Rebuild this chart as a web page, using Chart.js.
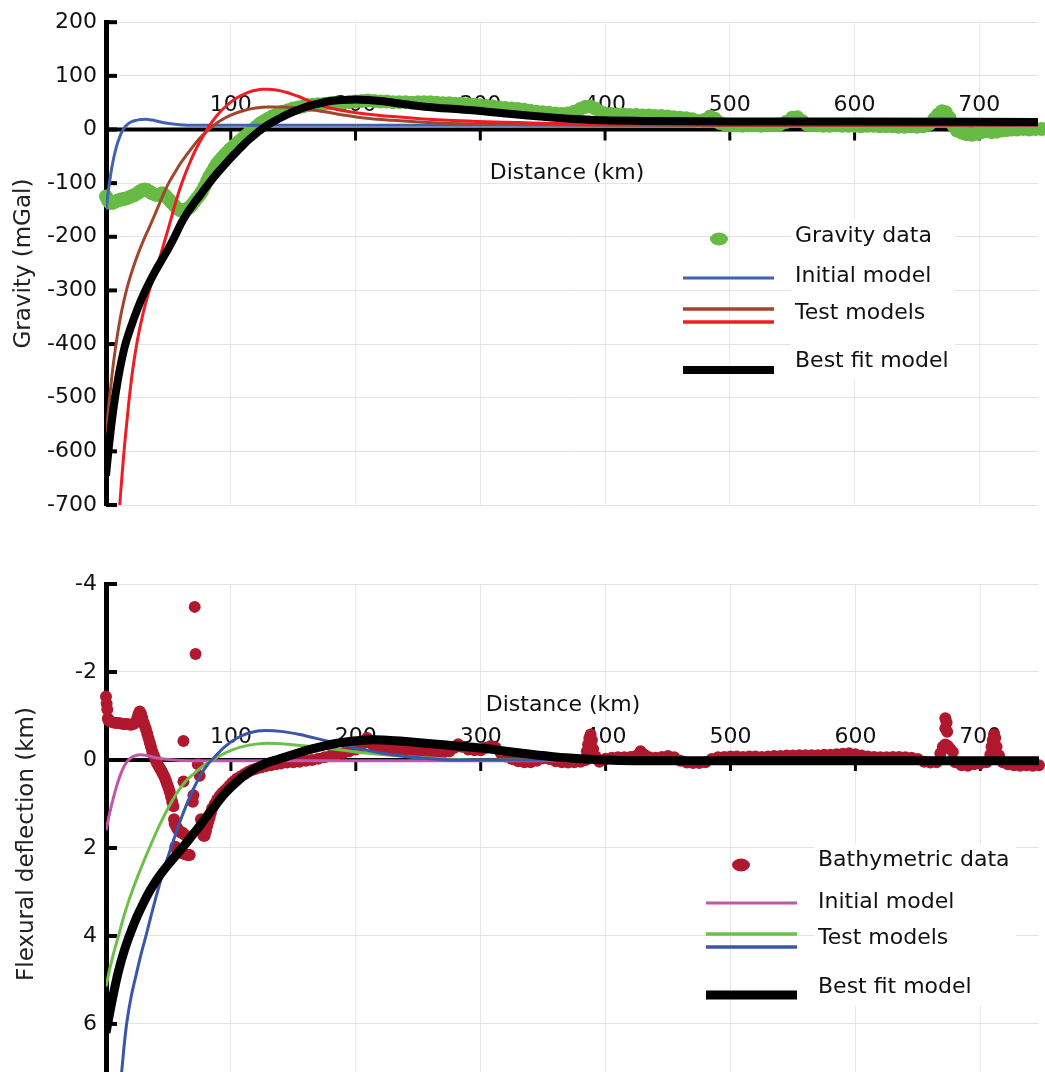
<!DOCTYPE html>
<html>
<head>
<meta charset="utf-8">
<title>Gravity and flexural deflection</title>
<script src="https://cdn.jsdelivr.net/npm/chart.js@4.4.1/dist/chart.umd.min.js"></script>
<style>
  html, body { margin: 0; padding: 0; background: #fff; overflow: hidden; }
  #contenedor { position: relative; width: 1045px; height: 1072px; overflow: hidden; }
  canvas { position: absolute; left: 0; }
  #grafico-gravedad { top: 0; }
  #grafico-flexion { top: 540px; }
</style>
</head>
<body>
<div id="contenedor">
  <canvas id="grafico-gravedad" width="1045" height="540"></canvas>
  <canvas id="grafico-flexion" width="1045" height="590"></canvas>
</div>
<script>
// ticks
const distanceTicks = [100, 200, 300, 400, 500, 600, 700];
const gravityTicks = [200, 100, 0, -100, -200, -300, -400, -500, -600, -700];
const deflectionTicks = [-4, -2, 0, 2, 4, 6];

// gravity profile (km, mGal)
const gravityData = [
  [0,-125],[1.5,-132],[3,-136],[5,-137],[7,-135],[9,-133],[11,-131],[13,-130],[15,-129],[17,-128],
  [19,-126],[21,-124],[23,-122],[25,-119],[27,-116],[29,-113],[31,-112],[33,-113],[35,-116],[37,-119],
  [39,-121],[41,-122],[43,-121],[45,-119],[47,-122],[49,-127],[51,-132],[53,-137],[55,-142],[57,-147],
  [59,-150],[61,-151],[63,-150],[65,-148],[67,-145],[69,-140],[71,-134],[73,-128],[75,-122],[77,-115],
  [79,-106],[81,-96],[83,-87],[85,-79],[87,-71],[89,-64],[91,-58],[93,-53],[95,-48],[97,-43],
  [99,-38],[101,-34],[103,-30],[105,-26],[107,-22],[109,-18],[111,-14],[113,-10],[115,-6],[117,-2],
  [119,2],[121,6],[123,10],[125,13],[127,16],[130,20],[133,24],[136,27],[139,30],[142,33],
  [146,36],[150,39],[154,41],[158,43],[162,45],[166,46],[170,47],[175,48],[180,49],[185,50],
  [190,50],[195,51],[200,52],[205,53],[210,54],[215,53],[220,52],[225,52],[230,51],[235,51],
  [240,51],[245,50],[250,51],[255,51],[260,51],[265,50],[270,49],[275,49],[280,48],[285,48],
  [290,47],[295,46],[300,45],[305,44],[310,43],[315,41],[320,40],[325,39],[330,38],[335,37],
  [340,35],[345,33],[350,32],[355,31],[360,30],[365,29],[370,30],[375,33],[380,38],[384,42],
  [388,43],[392,39],[396,33],[400,30],[405,29],[410,28],[415,28],[420,27],[425,27],[430,26],
  [435,26],[440,25],[445,25],[450,24],[455,23],[460,22],[465,21],[470,19],[475,16],[480,18],
  [484,24],[488,20],[492,12],[496,9],[500,8],[505,8],[510,7],[515,8],[520,8],[525,7],
  [530,8],[535,8],[540,9],[545,14],[550,22],[554,23],[558,16],[562,9],[566,8],[570,8],
  [575,7],[580,7],[585,8],[590,7],[595,7],[600,7],[605,6],[610,7],[615,7],[620,6],
  [625,6],[630,6],[635,5],[640,5],[645,6],[650,5],[655,6],[660,10],[664,20],[667,28],
  [670,34],[673,32],[676,22],[679,8],[682,-2],[686,-6],[690,-9],[694,-10],[698,-8],[702,-5],
  [706,-3],[710,-5],[714,-4],[718,-2],[722,-1],[726,0],[730,0],[735,1],[740,0],[745,1],[750,1]
];
const gravityInitial = [
  [0,-150],[2,-112],[4,-80],[6,-55],[8,-35],[10,-20],[12,-8],[14,1],[17,9],[20,14],
  [24,17],[28,18.5],[32,19],[37,17.5],[42,15],[48,12],[55,10],[62,8.5],[70,8],[100,8],[300,8],[750,8]
];
const gravityTestBrown = [
  [0,-570],[2,-520],[4,-475],[6,-435],[9,-385],[12,-345],[15,-313],[18,-286],[22,-256],[26,-230],
  [30,-207],[34,-186],[38,-165],[42,-143],[46,-121],[50,-101],[55,-81],[60,-62],[65,-46],[70,-31],
  [75,-17],[80,-5],[85,5],[90,14],[95,21],[100,27],[110,35],[120,40],[130,42],[140,42],
  [150,41],[165,37],[178,32],[190,27],[205,22],[230,17],[258,13],[298,10],[340,9],[400,8],[750,8]
];
const gravityTestRed = [
  [9,-760],[11,-700],[13,-640],[15,-585],[18,-515],[21,-455],[25,-395],[30,-340],[35,-298],[40,-262],
  [44,-232],[48,-200],[51,-176],[55,-143],[59,-112],[63,-86],[67,-63],[71,-42],[75,-24],[80,-4],
  [85,14],[90,29],[95,41],[100,51],[105,59],[110,65],[115,70],[120,73],[125,75],[130,75],
  [135,74],[140,72],[145,69],[150,65],[155,61],[160,56],[165,51],[170,47],[178,41],[190,35],
  [205,30],[230,24],[258,19],[298,15],[330,13],[360,11],[400,10],[500,9],[750,9]
];
const gravityBestFit = [
  [0,-645],[2,-598],[4,-556],[6,-520],[8,-488],[11,-448],[15,-405],[20,-368],[25,-336],[30,-308],
  [35,-284],[40,-262],[45,-242],[50,-222],[55,-200],[60,-176],[65,-156],[70,-139],[75,-124],[80,-108],
  [85,-93],[90,-79],[95,-66],[100,-53],[105,-41],[110,-29],[115,-18],[120,-8],[125,1],[130,9],
  [140,22],[150,33],[160,42],[170,48],[180,53],[190,55],[200,56],[210,55],[220,53],[240,47],
  [258,42],[280,38],[298,35],[320,30],[338,26],[360,22],[380,19],[400,17],[430,16],[500,15],
  [600,15],[750,14]
];

// flexure profile (km, km)
const bathyData = [
  [0,-1.44],[0.5,-1.28],[1,-1.15],[1.5,-0.95],[2,-0.9],[4,-0.87],[6,-0.85],[8,-0.84],[10,-0.84],[12,-0.83],
  [14,-0.82],[16,-0.82],[18,-0.81],[20,-0.8],[22,-0.82],[24,-0.86],[25,-0.95],[26,-1.04],[27,-1.1],[28,-1.05],
  [29,-0.96],[30,-0.86],[31,-0.78],[32,-0.7],[33,-0.6],[34,-0.5],[35,-0.4],[36,-0.3],[37,-0.2],[38,-0.12],
  [39,-0.05],[40,0.02],[41,0.08],[42,0.13],[43,0.18],[44,0.23],[45,0.28],[46,0.34],[47,0.4],[48,0.47],
  [49,0.55],[50,0.63],[51,0.72],[52,0.83],[53,0.95],[54,1.05],[54.5,1.35],[55,1.45],[56,1.5],[57,1.55],
  [58,1.6],[59,1.62],[60,1.65],[61,1.65],[62,1.68],[63,1.7],[55.5,1.97],[57,2.05],[59,2.1],[61,2.12],
  [63,2.14],[65,2.16],[67,2.16],[62,-0.43],[62,0.49],[71,-3.48],[71.7,-2.41],[73.5,0.1],[75,0.36],[70,0.8],
  [69.5,0.95],[76,1.35],[77,1.55],[78,1.72],[79,1.72],[80,1.62],[81,1.5],[82,1.4],[83,1.3],[84,1.2],
  [85,1.1],[87,1.0],[89,0.9],[91,0.82],[93,0.75],[95,0.7],[97,0.64],[99,0.58],[101,0.52],[103,0.47],
  [105,0.42],[108,0.37],[111,0.32],[114,0.27],[117,0.23],[120,0.2],[124,0.17],[128,0.14],[132,0.12],[136,0.1],
  [140,0.08],[145,0.06],[150,0.05],[155,0.04],[160,0.02],[165,0],[170,-0.03],[175,-0.06],[180,-0.1],[185,-0.13],
  [190,-0.16],[195,-0.2],[200,-0.24],[204,-0.3],[207,-0.4],[209,-0.5],[211,-0.45],[213,-0.35],[216,-0.28],[220,-0.27],
  [225,-0.26],[230,-0.25],[235,-0.24],[240,-0.22],[245,-0.21],[250,-0.2],[255,-0.18],[260,-0.17],[265,-0.16],[270,-0.17],
  [275,-0.2],[279,-0.28],[282,-0.36],[285,-0.3],[290,-0.24],[295,-0.22],[300,-0.22],[304,-0.28],[308,-0.32],[312,-0.28],
  [316,-0.16],[320,-0.08],[325,-0.02],[330,0.03],[335,0.05],[340,0.05],[345,0.02],[350,-0.04],[355,-0.02],[360,0.03],
  [365,0.05],[370,0.06],[375,0.05],[380,0.04],[384,0.0],[385,-0.2],[386,-0.35],[387,-0.5],[388,-0.58],[389,-0.45],
  [390,-0.25],[392,-0.08],[395,0.04],[400,-0.03],[405,-0.05],[410,-0.06],[415,-0.06],[420,-0.07],[425,-0.1],[428,-0.2],
  [431,-0.12],[435,-0.06],[440,-0.05],[445,-0.07],[450,-0.09],[455,-0.06],[460,0.02],[465,0.06],[470,0.07],[475,0.07],
  [480,0.05],[485,-0.02],[490,-0.06],[495,-0.07],[500,-0.08],[505,-0.08],[510,-0.07],[515,-0.08],[520,-0.08],[525,-0.07],
  [530,-0.08],[535,-0.09],[540,-0.09],[545,-0.1],[550,-0.1],[555,-0.11],[560,-0.11],[565,-0.11],[570,-0.11],[575,-0.12],
  [580,-0.12],[585,-0.13],[590,-0.14],[595,-0.15],[600,-0.13],[605,-0.1],[610,-0.08],[615,-0.07],[620,-0.06],[625,-0.06],
  [630,-0.07],[635,-0.07],[640,-0.06],[645,-0.05],[650,-0.02],[655,0.04],[660,0.06],[665,0.05],[668,-0.15],[670,-0.3],
  [672,-0.35],[674,-0.32],[676,-0.25],[678,-0.18],[672,-0.95],[673,-0.85],[672,-0.72],[673.5,-0.64],[680,0.05],[685,0.12],
  [690,0.13],[695,0.1],[700,0.08],[705,0.05],[708,-0.12],[709,-0.3],[710,-0.45],[711,-0.58],[712,-0.5],[713,-0.3],
  [715,-0.1],[718,0.05],[722,0.1],[727,0.12],[732,0.13],[737,0.12],[742,0.13],[747,0.12],[752,0.12]
];
const flexInitial = [
  [0,1.6],[3,1.2],[6,0.85],[9,0.55],[12,0.3],[15,0.12],[18,0.0],[22,-0.08],[27,-0.12],[33,-0.1],
  [40,-0.05],[50,-0.01],[60,0.01],[100,0.02],[750,0.02]
];
const flexTestGreen = [
  [0,5.15],[3,4.75],[6,4.4],[10,4.0],[14,3.58],[18,3.22],[22,2.9],[26,2.6],[30,2.32],[34,2.05],
  [40,1.66],[46,1.3],[52,0.98],[58,0.7],[64,0.48],[70,0.32],[75,0.2],[80,0.09],[85,0.01],[90,-0.08],
  [100,-0.22],[110,-0.31],[120,-0.36],[130,-0.38],[145,-0.36],[160,-0.32],[175,-0.27],[190,-0.22],[210,-0.15],[240,-0.08],
  [270,-0.03],[300,0.0],[750,0.02]
];
const flexTestBlue = [
  [10,8.0],[12.5,7.1],[14.5,6.5],[16.5,6.0],[20,5.4],[24,4.9],[28,4.42],[32,4.0],[36,3.55],[40,3.12],
  [45,2.62],[52,2.0],[58,1.5],[64,1.05],[70,0.66],[76,0.33],[82,0.08],[86,-0.04],[95,-0.3],[105,-0.5],
  [115,-0.62],[128,-0.67],[140,-0.65],[155,-0.58],[170,-0.48],[185,-0.37],[200,-0.27],[220,-0.16],[240,-0.08],[260,-0.03],
  [280,0],[750,0.02]
];
const flexBestFit = [
  [0,6.2],[5,5.45],[10,4.8],[15,4.3],[20,3.9],[25,3.55],[30,3.25],[35,2.98],[40,2.75],[45,2.55],
  [50,2.37],[55,2.2],[60,2.03],[65,1.86],[70,1.68],[75,1.5],[80,1.31],[85,1.12],[90,0.94],[95,0.77],
  [100,0.62],[105,0.49],[110,0.37],[115,0.27],[120,0.18],[125,0.11],[130,0.05],[136,0],[145,-0.08],[155,-0.17],
  [165,-0.25],[175,-0.32],[185,-0.38],[195,-0.42],[205,-0.45],[215,-0.46],[225,-0.45],[240,-0.42],[260,-0.37],[280,-0.32],
  [300,-0.27],[320,-0.2],[340,-0.13],[360,-0.07],[380,-0.03],[400,0],[450,0.02],[750,0.02]
];

const FUENTE = '"DejaVu Sans", "Open Sans", sans-serif';
const aPuntos = lista => lista.map(([x, y]) => ({ x, y }));


// axis line at y = 0, inward ticks, distance labels drawn above the axis
function crearEjes(cfg) {
  return {
    id: 'ejes',
    beforeDatasetsDraw(chart) {
      const { ctx, chartArea, scales: { x, y } } = chart;
      const y0 = y.getPixelForValue(0);
      ctx.save();
      ctx.strokeStyle = '#000';
      ctx.lineWidth = 4;
      y.ticks.forEach(t => {
        const py = y.getPixelForValue(t.value);
        ctx.beginPath();
        ctx.moveTo(chartArea.left, py);
        ctx.lineTo(chartArea.left + 11, py);
        ctx.stroke();
      });
      ctx.beginPath();
      ctx.moveTo(chartArea.left, y0);
      ctx.lineTo(chartArea.right, y0);
      ctx.stroke();
      ctx.lineWidth = 3;
      distanceTicks.forEach(v => {
        const px = x.getPixelForValue(v);
        ctx.beginPath();
        ctx.moveTo(px, y0);
        ctx.lineTo(px, y0 + 11);
        ctx.stroke();
      });
      ctx.fillStyle = '#111';
      ctx.font = '22px ' + FUENTE;
      ctx.textAlign = 'center';
      ctx.textBaseline = 'middle';
      distanceTicks.forEach(v => ctx.fillText(String(v), x.getPixelForValue(v), y0 - cfg.labelGap));
      ctx.fillText('Distance (km)', cfg.titleX, y0 + cfg.titleGap);
      ctx.restore();
    }
  };
}


function crearLeyenda(cfg) {
  return {
    id: 'leyenda',
    afterDraw(chart) {
      const ctx = chart.ctx;
      ctx.save();
      ctx.font = '22px ' + FUENTE;
      const anchoMax = Math.max(...cfg.items.map(it => ctx.measureText(it.text).width));
      const primero = cfg.items[0].textY;
      const ultimo = cfg.items[cfg.items.length - 1].textY;
      ctx.fillStyle = '#fff';
      ctx.fillRect(cfg.textX - 4, primero - 16, anchoMax + 10, ultimo - primero + 34);

      cfg.items.forEach(it => {
        if (it.dot) {
          ctx.fillStyle = it.dot.color;
          ctx.beginPath();
          ctx.ellipse(it.dot.x, it.dot.y, 9, 6.5, 0, 0, Math.PI * 2);
          ctx.fill();
        }
        (it.lines || []).forEach(l => {
          ctx.strokeStyle = l.color;
          ctx.lineWidth = l.width;
          ctx.beginPath();
          ctx.moveTo(cfg.lineX1, l.y);
          ctx.lineTo(cfg.lineX2, l.y);
          ctx.stroke();
        });
        ctx.fillStyle = '#111';
        ctx.textAlign = 'left';
        ctx.textBaseline = 'middle';
        ctx.fillText(it.text, cfg.textX, it.textY);
      });
      ctx.restore();
    }
  };
}


function serieLinea(datos, color, ancho, orden) {
  return {
    data: aPuntos(datos),
    showLine: true,
    borderColor: color,
    borderWidth: ancho,
    pointRadius: 0,
    cubicInterpolationMode: 'monotone',
    fill: false,
    order: orden
  };
}

function serieDatos(datos, color, radio) {
  return {
    data: aPuntos(datos),
    showLine: false,
    pointRadius: radio,
    pointBackgroundColor: color,
    pointBorderWidth: 0,
    clip: false,
    order: 10
  };
}

function opcionesGrafico(cfg) {
  return {
    responsive: false,
    devicePixelRatio: 1,
    animation: false,
    events: [],
    layout: { padding: cfg.padding },
    plugins: { legend: { display: false }, tooltip: { enabled: false } },
    scales: {
      x: {
        type: 'linear',
        min: 0,
        max: 747,
        afterBuildTicks: scale => { scale.ticks = distanceTicks.map(v => ({ value: v })); },
        afterFit: scale => { scale.height = 0; },
        ticks: { display: false },
        grid: { color: '#e8e8e8', lineWidth: 1, drawTicks: false },
        border: { display: false }
      },
      y: {
        type: 'linear',
        min: cfg.min,
        max: cfg.max,
        reverse: cfg.reverse,
        afterBuildTicks: scale => { scale.ticks = cfg.ticks.map(v => ({ value: v })); },
        afterFit: scale => { scale.width = 106; },
        ticks: { font: { family: FUENTE, size: 22 }, color: '#111', padding: 9 },
        grid: { color: '#e3e3e3', lineWidth: 1, drawTicks: false },
        border: { display: true, color: '#000', width: 5 },
        title: {
          display: true,
          text: cfg.title,
          font: { family: FUENTE, size: 23 },
          color: '#222',
          padding: { top: cfg.titlePad, bottom: 0 }
        }
      }
    }
  };
}


new Chart(document.getElementById('grafico-gravedad'), {
  type: 'scatter',
  data: {
    datasets: [
      serieDatos(gravityData, '#67bb45', 7),
      serieLinea(gravityInitial, '#4062b0', 3, 3),
      serieLinea(gravityTestBrown, '#a0462d', 3, 2),
      serieLinea(gravityTestRed, '#ee1c24', 3, 1),
      serieLinea(gravityBestFit, '#000000', 8, 0)
    ]
  },
  options: opcionesGrafico({
    padding: { top: 19, bottom: 35, left: 0, right: 0 },
    min: -700, max: 200, reverse: false,
    ticks: gravityTicks,
    title: 'Gravity (mGal)', titlePad: 10
  }),
  plugins: [
    crearEjes({ labelGap: 24, titleX: 567, titleGap: 44 }),
    crearLeyenda({
      textX: 795, lineX1: 683, lineX2: 774,
      items: [
        { text: 'Gravity data', textY: 236, dot: { x: 719, y: 239, color: '#67bb45' } },
        { text: 'Initial model', textY: 276, lines: [{ y: 278, color: '#4062b0', width: 3 }] },
        { text: 'Test models', textY: 313, lines: [{ y: 309, color: '#a0462d', width: 3.5 }, { y: 322, color: '#ee1c24', width: 3.5 }] },
        { text: 'Best fit model', textY: 361, lines: [{ y: 370, color: '#000000', width: 8 }] }
      ]
    })
  ]
});

new Chart(document.getElementById('grafico-flexion'), {
  type: 'scatter',
  data: {
    datasets: [
      serieDatos(bathyData, '#b0182e', 6),
      serieLinea(flexInitial, '#c256a8', 3, 3),
      serieLinea(flexTestGreen, '#6cc04a', 3, 2),
      serieLinea(flexTestBlue, '#3a56a8', 3, 1),
      serieLinea(flexBestFit, '#000000', 9, 0)
    ]
  },
  options: opcionesGrafico({
    padding: { top: 44, bottom: 26, left: 0, right: 0 },
    min: -4, max: 7.82, reverse: true,
    ticks: deflectionTicks,
    title: 'Flexural deflection (km)', titlePad: 13
  }),
  plugins: [
    crearEjes({ labelGap: 23, titleX: 563, titleGap: -55 }),
    crearLeyenda({
      textX: 818, lineX1: 706, lineX2: 797,
      items: [
        { text: 'Bathymetric data', textY: 320, dot: { x: 741, y: 325, color: '#b0182e' } },
        { text: 'Initial model', textY: 362, lines: [{ y: 363, color: '#c256a8', width: 3 }] },
        { text: 'Test models', textY: 398, lines: [{ y: 394, color: '#6cc04a', width: 3.5 }, { y: 407, color: '#3a56a8', width: 3.5 }] },
        { text: 'Best fit model', textY: 447, lines: [{ y: 455, color: '#000000', width: 9 }] }
      ]
    })
  ]
});
</script>
</body>
</html>
